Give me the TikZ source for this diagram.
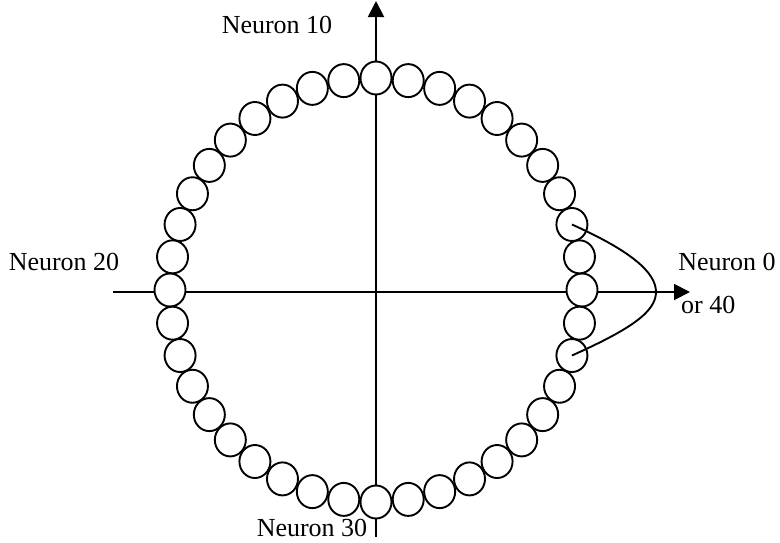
\documentclass[tikz,border=0pt]{standalone}
\usepackage{fontspec}
\setmainfont{Liberation Serif}
\usetikzlibrary{shapes.geometric,arrows.meta,calc}
\begin{document}
\begin{tikzpicture}[x=1pt,y=-1pt,
  neuron/.style={ellipse,draw,fill=white,line width=1.9pt,minimum width=31pt,minimum height=33pt,inner sep=0pt},
  axis/.style={line width=1.9pt,-{Triangle[length=16pt,width=16pt]}},
  lbl/.style={font=\fontsize{26}{30}\selectfont,inner sep=0pt}]
\useasboundingbox (0,0) rectangle (780,542);
\coordinate (xl) at (113,292);
\coordinate (xr) at (690,292);
\coordinate (yb) at (376,537);
\coordinate (yt) at (376,1);
\draw[axis] (xl) -- (xr);
\draw[axis] (yb) -- (yt);
\foreach \i in {0,...,39}{
  \node[neuron] (n\i) at ({376+206*cos(9*\i)},{290-212*sin(9*\i)}) {};
}
\coordinate (tip) at (656,292);
\draw[line width=1.9pt] (n2.center) .. controls ($(n2.center)+(58,26)$) and (656,272) .. (tip)
  .. controls (656,312) and ($(n38.center)+(58,-26)$) .. (n38.center);
\node[lbl] (l10) at (277,25) {Neuron 10};
\node[lbl] (l20) at (64,262) {Neuron 20};
\node[lbl] (l0) at (727,262) {Neuron 0};
\node[lbl,anchor=west] (l40) at (681,305) {or 40};
\node[lbl] (l30) at (312,528) {Neuron 30};
\end{tikzpicture}
\end{document}
